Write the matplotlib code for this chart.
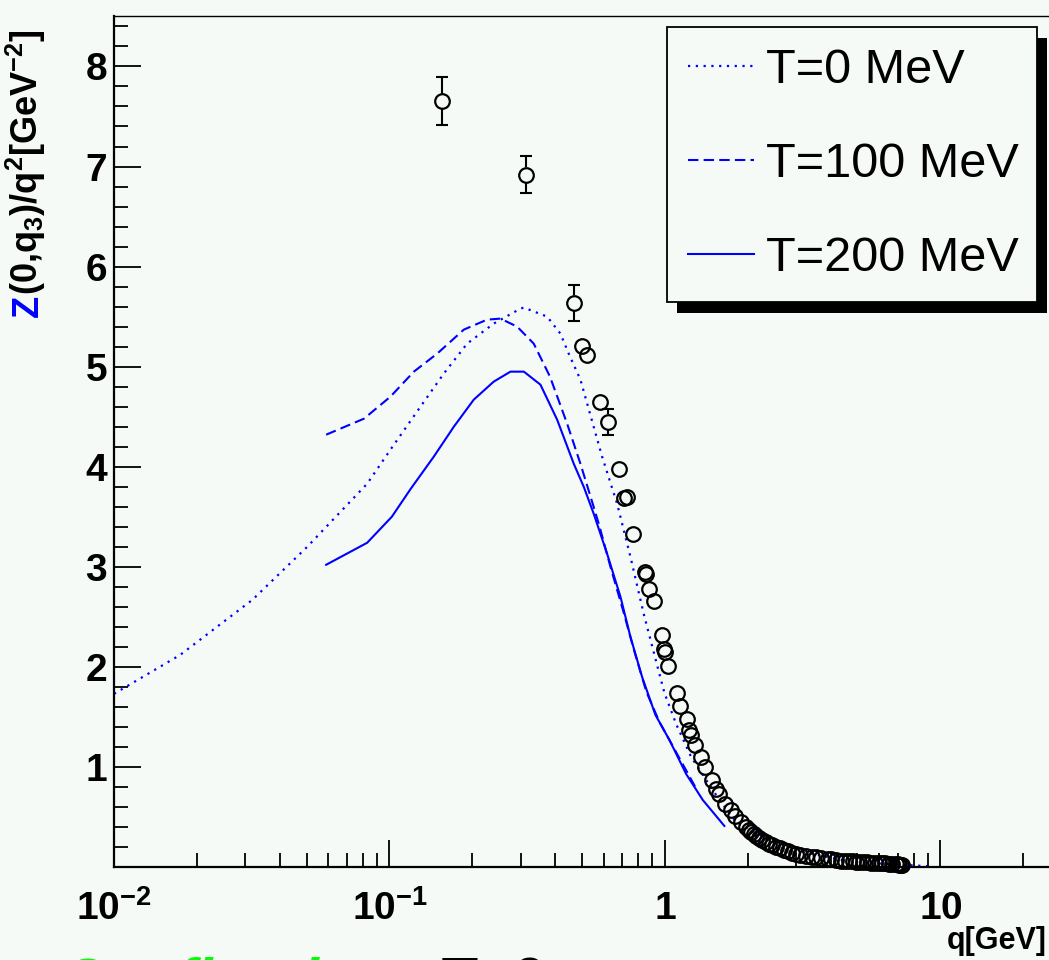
"""Gluon dressing function Z(0,q3)/q^2 vs q (ROOT-style plot)."""

import matplotlib

matplotlib.use("Agg")
import matplotlib.pyplot as plt
import matplotlib.ticker as mticker
import numpy as np
from matplotlib.patches import Rectangle
from matplotlib.transforms import IdentityTransform

plt.rcParams["font.family"] = ["Liberation Sans", "DejaVu Sans"]
plt.rcParams["mathtext.fontset"] = "custom"
plt.rcParams["mathtext.rm"] = "Liberation Sans"
plt.rcParams["mathtext.bf"] = "Liberation Sans:bold"
plt.rcParams["mathtext.it"] = "Liberation Sans:italic"

BG = "#f6faf7"

# --- data ---
q_t0 = [0.01, 0.0174, 0.0318, 0.0503, 0.083, 0.1008, 0.1296, 0.1574, 0.1914,
        0.239, 0.299, 0.3076, 0.3736, 0.4175, 0.4475, 0.4935, 0.5916, 0.6707,
        0.7497, 0.8375, 0.955, 0.996, 1.098, 1.245, 1.411, 1.577, 1.813,
        2.395, 3.164, 4.805, 9.1]
z_t0 = [1.73, 2.12, 2.67, 3.20, 3.83, 4.17, 4.60, 4.93, 5.23,
        5.43, 5.58, 5.59, 5.50, 5.33, 5.13, 4.87, 4.10, 3.63,
        3.10, 2.53, 1.93, 1.74, 1.43, 1.10, 0.87, 0.67, 0.45,
        0.27, 0.15, 0.05, 0.007]

q_t100 = [0.0589, 0.0808, 0.1008, 0.1226, 0.149, 0.1862, 0.2263, 0.2529,
          0.2907, 0.334, 0.3826, 0.4416, 0.4935, 0.5372, 0.5753, 0.6343,
          0.7072, 0.7755, 0.8566, 0.955, 1.097, 1.301]
z_t100 = [4.32, 4.48, 4.70, 4.95, 5.13, 5.37, 5.47, 5.48,
          5.40, 5.23, 4.90, 4.43, 4.03, 3.70, 3.43, 3.00,
          2.55, 2.15, 1.75, 1.45, 1.15, 0.78]

q_t200 = [0.0589, 0.083, 0.102, 0.1195, 0.1448, 0.1713, 0.2023, 0.239,
          0.2749, 0.3076, 0.3533, 0.4062, 0.4667, 0.5073, 0.5515, 0.6168,
          0.6897, 0.7497, 0.8263, 0.9236, 1.038, 1.194, 1.372, 1.644]
z_t200 = [3.02, 3.24, 3.50, 3.78, 4.10, 4.40, 4.67, 4.85,
          4.95, 4.95, 4.82, 4.47, 4.03, 3.80, 3.53, 3.13,
          2.70, 2.30, 1.90, 1.52, 1.27, 0.93, 0.67, 0.41]

# lattice points
q_lat = [0.1546, 0.312, 0.467, 0.498, 0.522, 0.583, 0.622, 0.679, 0.708,
         0.726, 0.766, 0.850, 0.856, 0.873, 0.916, 0.977, 0.990, 0.997,
         1.030, 1.110, 1.138, 1.207, 1.227, 1.248, 1.290, 1.357, 1.403,
         1.487, 1.538, 1.577, 1.658, 1.744, 1.80, 1.895, 1.97, 2.02, 2.061,
         2.10, 2.15, 2.20, 2.259, 2.32, 2.39, 2.45, 2.539, 2.62, 2.70, 2.80,
         2.903, 3.00, 3.10, 3.25, 3.431, 3.55, 3.70, 3.90, 4.00, 4.194, 4.35,
         4.50, 4.65, 4.80, 4.95, 5.08, 5.25, 5.40, 5.60, 5.80, 6.00, 6.16,
         6.30, 6.50, 6.70, 6.90, 7.00, 7.10, 7.20, 7.28]
z_lat = [7.65, 6.92, 5.64, 5.21, 5.12, 4.65, 4.45, 3.98, 3.69,
         3.70, 3.33, 2.95, 2.93, 2.78, 2.66, 2.32, 2.18, 2.15,
         2.01, 1.74, 1.61, 1.48, 1.37, 1.32, 1.22, 1.10, 1.00,
         0.87, 0.78, 0.73, 0.63, 0.57, 0.51, 0.45, 0.40, 0.37, 0.35,
         0.33, 0.31, 0.29, 0.27, 0.25, 0.23, 0.22, 0.20, 0.185, 0.17, 0.155,
         0.14, 0.13, 0.12, 0.11, 0.10, 0.095, 0.085, 0.08, 0.075, 0.067, 0.064,
         0.06, 0.058, 0.055, 0.052, 0.05, 0.048, 0.045, 0.044, 0.042, 0.041, 0.038,
         0.036, 0.032, 0.03, 0.027, 0.025, 0.023, 0.021, 0.02]
# points whose error bar sticks out of the marker
q_err = [0.1546, 0.312, 0.467, 0.622]
z_err_c = [7.65, 6.92, 5.64, 4.45]
z_err = [0.24, 0.185, 0.18, 0.13]

xtick_values = [0.01, 0.1, 1, 10]
xtick_labels = [r"$\mathbf{10^{-2}}$", r"$\mathbf{10^{-1}}$", r"$\mathbf{1}$", r"$\mathbf{10}$"]
ytick_values = [1, 2, 3, 4, 5, 6, 7, 8]
legend_labels = ["T=0 MeV", "T=100 MeV", "T=200 MeV"]

fig = plt.figure(figsize=(10.49, 9.6), dpi=100, facecolor=BG)
ax = fig.add_axes([0.1087, 0.0969, 0.913, 0.886], facecolor=BG)
ax.set_xscale("log")
ax.set_xlim(0.01, 30)
ax.set_ylim(0, 8.5)

ax.plot(q_t0, z_t0, color="blue", lw=1.6, ls=(0, (1, 2.5)), label=legend_labels[0])
ax.plot(q_t100, z_t100, color="blue", lw=1.5, ls=(0, (5, 2.5)), label=legend_labels[1])
ax.plot(q_t200, z_t200, color="blue", lw=1.5, ls="-", label=legend_labels[2])

# error bars drawn only outside the open marker
r = 0.075
qe = np.array(q_err)
ze = np.array(z_err_c)
ee = np.array(z_err)
ax.vlines(qe, ze + r, ze + ee, color="black", lw=1.5, zorder=3)
ax.vlines(qe, ze - ee, ze - r, color="black", lw=1.5, zorder=3)
ax.plot(qe, ze + ee, ls="none", marker="_", ms=8, mew=1.5, color="black", zorder=3)
ax.plot(qe, ze - ee, ls="none", marker="_", ms=8, mew=1.5, color="black", zorder=3)

ax.plot(q_lat, z_lat, ls="none", marker="o", ms=10.5, mfc="none", mec="black",
        mew=1.6, clip_on=False, zorder=3)

# axes / ticks
ax.xaxis.set_major_locator(mticker.FixedLocator(xtick_values))
ax.xaxis.set_major_formatter(mticker.FixedFormatter(xtick_labels))
ax.xaxis.set_minor_locator(mticker.LogLocator(base=10, subs=np.arange(2, 10), numticks=20))
ax.xaxis.set_minor_formatter(mticker.NullFormatter())
ax.yaxis.set_major_locator(mticker.FixedLocator(ytick_values))
ax.yaxis.set_minor_locator(mticker.MultipleLocator(0.2))
ax.tick_params(which="both", direction="in", top=False, right=False, width=1.3, color="black")
ax.tick_params(which="major", length=19.5)
ax.tick_params(which="minor", length=10)
ax.tick_params(axis="x", labelsize=28, pad=17)
ax.tick_params(axis="y", labelsize=28, pad=5)
for lbl in ax.get_yticklabels():
    lbl.set_fontweight("bold")
ax.spines["right"].set_visible(False)
ax.spines["left"].set_linewidth(1.6)
ax.spines["bottom"].set_linewidth(1.6)
ax.spines["top"].set_linewidth(1.0)

# legend with ROOT-like black shadow
leg = ax.legend(loc="upper left", bbox_to_anchor=(667 / 1049, 1 - 27 / 960, 370 / 1049, 0),
                bbox_transform=fig.transFigure, mode="expand", borderaxespad=0,
                fancybox=False, edgecolor="black", facecolor=BG, framealpha=1,
                prop={"size": 35}, handlelength=1.34, handletextpad=0.25,
                borderpad=0.44, labelspacing=1.0)
leg.get_frame().set_linewidth(1.3)

# axis titles
fig.text(1047 / 1049, 0.004, "q[GeV]", ha="right", va="bottom", fontsize=22, fontweight="bold")
ztxt = fig.text(38 / 1049, 1 - 317 / 960, "Z", rotation=90, rotation_mode="anchor",
                ha="left", va="baseline", color="blue", fontsize=26, fontweight="bold")

# slide text cut off by the bottom edge
fig.text(60 / 1049, -39 / 960, "Confined", ha="left", va="baseline", fontsize=43,
         fontweight="bold", fontstyle="italic", color="#00ff00")
fig.text(372 / 1049, -39 / 960, "at T=0", ha="left", va="baseline", fontsize=43,
         fontweight="bold", color="black")

fig.canvas.draw()
bb = leg.get_window_extent()
ax.add_patch(Rectangle((bb.x0 + 10, bb.y0 - 11), bb.width, bb.height, facecolor="black",
                       edgecolor="none", transform=IdentityTransform(), clip_on=False, zorder=4.9))
zb = ztxt.get_window_extent()
fig.text(38 / 1049, zb.y1 / fig.bbox.height, r"$\mathbf{(0{,}q_3)/q^2[GeV^{-2}]}$",
         rotation=90, rotation_mode="anchor", ha="left", va="baseline", fontsize=26)

plt.savefig("out.png", dpi=100, facecolor=BG)
plt.close()
